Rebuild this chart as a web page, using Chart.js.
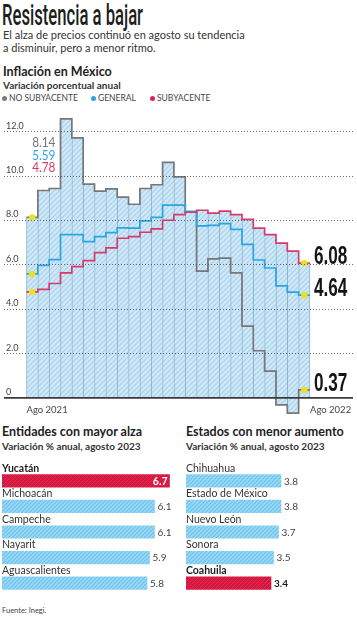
<!DOCTYPE html>
<html><head><meta charset="utf-8">
<script src="https://cdn.jsdelivr.net/npm/chart.js@4.4.1/dist/chart.umd.min.js"></script>
<style>
html,body{margin:0;padding:0;background:#fff;}
body{width:357px;height:620px;position:relative;overflow:hidden;font-family:Lato,"Noto Sans",sans-serif;color:#2a2a2a;}
.abs{position:absolute;white-space:nowrap;}
#title{left:2px;top:-2px;font-family:Roboto,"Liberation Sans",sans-serif;font-weight:500;font-size:29px;line-height:34px;transform-origin:0 0;color:#1e1e1e;}
#sub{left:3px;top:28px;font-size:11px;line-height:13px;color:#333;}
#h1{left:3px;top:64px;font-size:12.5px;font-weight:700;color:#222;}
#h2{left:3px;top:79px;font-size:10px;font-weight:700;color:#333;}
#legend{left:2px;top:93px;font-size:8.5px;color:#444;}
#legend span.it{position:absolute;top:0;white-space:nowrap;}
#legend i{display:inline-block;width:5px;height:5px;border-radius:50%;margin-right:2px;vertical-align:0px;}
canvas{position:absolute;}
.bh1{font-size:12.5px;font-weight:700;color:#222;}
.bh2{font-size:10px;font-weight:700;color:#333;}
#fuente{left:2px;top:606px;font-size:7.5px;color:#444;}
</style></head>
<body>
<div id="title" class="abs">Resistencia a bajar</div>
<div id="sub" class="abs">El alza de precios continuó en agosto su tendencia<br>a disminuir, pero a menor ritmo.</div>
<div id="h1" class="abs">Inflación en México</div>
<div id="h2" class="abs">Variación porcentual anual</div>
<div id="legend" class="abs">
  <span class="it" style="left:0px"><i style="background:#7a7a7a"></i>NO SUBYACENTE</span>
  <span class="it" style="left:89px"><i style="background:#2ba5e0"></i>GENERAL</span>
  <span class="it" style="left:148px"><i style="background:#d6245a"></i>SUBYACENTE</span>
</div>
<canvas id="main" width="357" height="312" style="left:0;top:105px"></canvas>
<div class="abs bh1" style="left:2px;top:424px">Entidades con mayor alza</div>
<div class="abs bh2" style="left:2px;top:440px">Variación % anual, agosto 2023</div>
<div class="abs bh1" style="left:186px;top:424px">Estados con menor aumento</div>
<div class="abs bh2" style="left:186px;top:440px">Variación % anual, agosto 2023</div>
<canvas id="left" width="178" height="140" style="left:0;top:456px"></canvas>
<canvas id="right" width="173" height="140" style="left:184px;top:456px"></canvas>
<div id="fuente" class="abs">Fuente: Inegi.</div>
<script>
// ---------- DATA ----------
const months = ['Ago 2021','Sep 2021','Oct 2021','Nov 2021','Dic 2021','Ene 2022','Feb 2022','Mar 2022','Abr 2022','May 2022','Jun 2022','Jul 2022','Ago 2022','Sep 2022','Oct 2022','Nov 2022','Dic 2022','Ene 2023','Feb 2023','Mar 2023','Abr 2023','May 2023','Jun 2023','Jul 2023','Ago 2023'];
const noSubyacente = [8.14, 9.35, 9.44, 12.58, 11.72, 9.64, 9.32, 9.42, 9.05, 8.73, 9.44, 9.61, 10.62, 9.96, 8.37, 5.72, 6.27, 6.30, 5.64, 3.24, 2.13, 1.21, -0.31, -0.68, 0.37];
const general      = [5.59, 5.98, 6.24, 7.36, 7.36, 7.05, 7.27, 7.45, 7.67, 7.66, 7.98, 8.14, 8.69, 8.69, 8.41, 7.76, 7.78, 7.86, 7.60, 6.92, 6.22, 5.86, 5.05, 4.77, 4.64];
const subyacente   = [4.78, 4.90, 5.16, 5.64, 5.92, 6.19, 6.55, 6.77, 7.20, 7.27, 7.47, 7.62, 8.01, 8.26, 8.37, 8.46, 8.33, 8.42, 8.26, 8.05, 7.66, 7.36, 6.98, 6.62, 6.08];
const xTickLabels = ['Ago 2021', 'Ago 2022'];
const yTicks = [0, 2, 4, 6, 8, 10, 12];

const mayorEstados = ['Yucatán','Michoacán','Campeche','Nayarit','Aguascalientes'];
const mayorValores = [6.7, 6.1, 6.1, 5.9, 5.8];
const menorEstados = ['Chihuahua','Estado de México','Nuevo León','Sonora','Coahuila'];
const menorValores = [3.8, 3.8, 3.7, 3.5, 3.4];
const destacados = ['Yucatán','Coahuila'];

// ---------- STYLE ----------
const C_GRAY = '#777777', C_BLUE = '#2ba5e0', C_RED = '#d83a6a', C_YEL = '#eee01e';

function hatch(base, stripe, size, lw){
  const c = document.createElement('canvas'); c.width = size; c.height = size;
  const g = c.getContext('2d');
  g.fillStyle = base; g.fillRect(0,0,size,size);
  g.strokeStyle = stripe; g.lineWidth = lw;
  g.beginPath();
  g.moveTo(-1, size+1); g.lineTo(size+1, -1);
  g.moveTo(-1, 1); g.lineTo(1, -1);
  g.moveTo(size-1, size+1); g.lineTo(size+1, size-1);
  g.stroke();
  return g.createPattern(c, 'repeat');
}

// fit title width
(function(){
  const t = document.getElementById('title');
  const w = t.getBoundingClientRect().width;
  t.style.transform = 'scaleX(' + (141 / w) + ')';
})();

const N = months.length;
const stepPts = arr => arr.map((v,i)=>({x:i, y:v})).concat([{x:N, y:arr[N-1]}]);
const envelope = months.map((m,i)=>({
  x: i + 0.5,
  y: [Math.min(0, noSubyacente[i], general[i], subyacente[i]), Math.max(0, noSubyacente[i], general[i], subyacente[i])]
}));
const markers = [noSubyacente, general, subyacente].flatMap(a => [{x:0.5, y:a[0]}, {x:N-0.5, y:a[N-1]}]);

const PX_PER_MONTH = 11.6, FIRST_EDGE = 23;
const xMin = -FIRST_EDGE / PX_PER_MONTH, xMax = (357 - FIRST_EDGE) / PX_PER_MONTH;
const PX_PER_UNIT = 22.5, ZERO_Y = 398 - 105, AREA_H = 297;
const yMax = ZERO_Y / PX_PER_UNIT, yMin = -(AREA_H - ZERO_Y) / PX_PER_UNIT;

const mainLabels = {
  id: 'mainLabels',
  afterDatasetsDraw(chart){
    const {ctx, scales:{x, y}, chartArea} = chart;
    ctx.save();
    // start values
    const sx = x.getPixelForValue(0.5);
    const starts = [[noSubyacente[0], C_GRAY, 38], [general[0], C_BLUE, 50.5], [subyacente[0], C_RED, 63]];
    ctx.font = '400 14px Lato, "Noto Sans", sans-serif';
    ctx.textBaseline = 'alphabetic'; ctx.textAlign = 'left';
    starts.forEach(([v, col, dy]) => {
      ctx.save(); ctx.translate(sx, chartArea.top + dy); ctx.scale(0.84, 1);
      ctx.fillStyle = col; ctx.fillText(v.toFixed(2), 0, 0); ctx.restore();
    });
    // end values
    const ex = x.getPixelForValue(N) + 4;
    ctx.font = '700 26px "Liberation Sans", Arial, sans-serif';
    [noSubyacente[N-1], general[N-1], subyacente[N-1]].forEach(v => {
      ctx.save(); ctx.translate(ex, y.getPixelForValue(v) + 1); ctx.scale(0.66, 1);
      ctx.fillStyle = '#151515'; ctx.fillText(v.toFixed(2), 0, 0); ctx.restore();
    });
    ctx.restore();
  }
};

new Chart(document.getElementById('main'), {
  type: 'bar',
  data: {
    datasets: [
      { type:'line', data: markers, showLine:false, pointRadius:3.2, pointBackgroundColor:C_YEL, pointBorderWidth:0, order:0, clip:false },
      { type:'line', data: stepPts(subyacente), stepped:'before', borderColor:C_RED, borderWidth:1.7, pointRadius:0, fill:false, order:1, clip:false },
      { type:'line', data: stepPts(general), stepped:'before', borderColor:C_BLUE, borderWidth:1.7, pointRadius:0, fill:false, order:2, clip:false },
      { type:'line', data: stepPts(noSubyacente), stepped:'before', borderColor:C_GRAY, borderWidth:1.7, pointRadius:0, fill:false, order:3, clip:false },
      { type:'bar', data: envelope, backgroundColor: hatch('#cfe7f7', '#a8d2ee', 5, 1.1),
        borderColor:'#8fb2cb', borderSkipped:false,
        borderWidth: c => ({left:1, right: c.dataIndex === N-1 ? 1 : 0, top:0, bottom:0}),
        barPercentage:1, categoryPercentage:1, order:4, clip:false }
    ]
  },
  options: {
    responsive:false, animation:false, devicePixelRatio:1,
    layout:{padding:0},
    plugins:{legend:{display:false}, tooltip:{enabled:false}},
    scales:{
      x:{ type:'linear', min:xMin, max:xMax, offset:false,
          grid:{display:false, drawTicks:false}, border:{display:false},
          afterBuildTicks: s => { s.ticks = [{value:0}, {value:N}]; },
          afterFit: s => { s.height = 15; s.paddingLeft = 0; s.paddingRight = 0; },
          ticks:{ align:'start', autoSkip:false, maxRotation:0, padding:2,
                  callback:(v,i)=>xTickLabels[i], color:'#444',
                  font:{family:'Lato, "Noto Sans", sans-serif', size:9.5} } },
      y:{ type:'linear', min:yMin, max:yMax, z:1,
          afterBuildTicks: s => { s.ticks = yTicks.map(v=>({value:v})); },
          afterFit: s => { s.width = 0; s.paddingTop = 0; s.paddingBottom = 0; },
          grid:{ z:1, drawTicks:false,
                 color: c => c.tick && c.tick.value === 0 ? '#3a3a3a' : '#5a5a5a',
                 lineWidth: c => c.tick && c.tick.value === 0 ? 1.8 : 0.9 },
          border:{ display:false, dash: c => (c.tick && c.tick.value === 0) ? [] : [1, 2] },
          ticks:{ mirror:true, padding:2, labelOffset:-6, color:'#444',
                  callback: v => v === 0 ? '0' : v.toFixed(1),
                  font:{family:'Lato, "Noto Sans", sans-serif', size:9} } }
    }
  },
  plugins:[mainLabels]
});

// ---------- bottom bars ----------
const barLabels = {
  id:'barLabels',
  afterDatasetsDraw(chart){
    const {ctx, chartArea} = chart;
    const meta = chart.getDatasetMeta(0);
    const names = chart.data.labels, vals = chart.data.datasets[0].data;
    ctx.save();
    meta.data.forEach((bar, i) => {
      const hi = destacados.includes(names[i]);
      const top = bar.y - bar.height/2;
      ctx.textBaseline = 'alphabetic';
      ctx.textAlign = 'left';
      ctx.fillStyle = hi ? '#1e1e1e' : '#333';
      ctx.font = (hi ? '700 ' : '400 ') + '10.5px Lato, "Noto Sans", sans-serif';
      ctx.fillText(names[i], chartArea.left, top - 3);
      const txt = vals[i].toFixed(1);
      ctx.textBaseline = 'middle';
      if (hi && i === 0) {
        ctx.textAlign = 'right'; ctx.fillStyle = '#fff';
        ctx.font = '700 10.5px Lato, "Noto Sans", sans-serif';
        ctx.fillText(txt, bar.x - 2, bar.y + 0.5);
      } else {
        ctx.textAlign = 'left'; ctx.fillStyle = hi ? '#1e1e1e' : '#444';
        ctx.font = (hi ? '700 ' : '400 ') + '10px Lato, "Noto Sans", sans-serif';
        ctx.fillText(txt, bar.x + 3, bar.y + 0.5);
      }
    });
    ctx.restore();
  }
};

const blueHatch = hatch('#72c7ef', '#a9ddf6', 4, 1.2);
const redFill = hatch('#d5173f', '#dc2c52', 4, 1);
function hbar(id, names, vals, areaW){
  return new Chart(document.getElementById(id), {
    type:'bar',
    data:{ labels:names, datasets:[{ data:vals,
      backgroundColor: c => destacados.includes(names[c.dataIndex]) ? redFill : blueHatch,
      borderWidth:0, barThickness:12.5 }] },
    options:{
      indexAxis:'y', responsive:false, animation:false, devicePixelRatio:1,
      layout:{padding:{top:12, left:2, right:0, bottom:0}},
      plugins:{legend:{display:false}, tooltip:{enabled:false}},
      scales:{
        x:{display:false, min:0, max: areaW / 25},
        y:{display:false}
      }
    },
    plugins:[barLabels]
  });
}
hbar('left', mayorEstados, mayorValores, 176);
hbar('right', menorEstados, menorValores, 171);
</script>
</body></html>
